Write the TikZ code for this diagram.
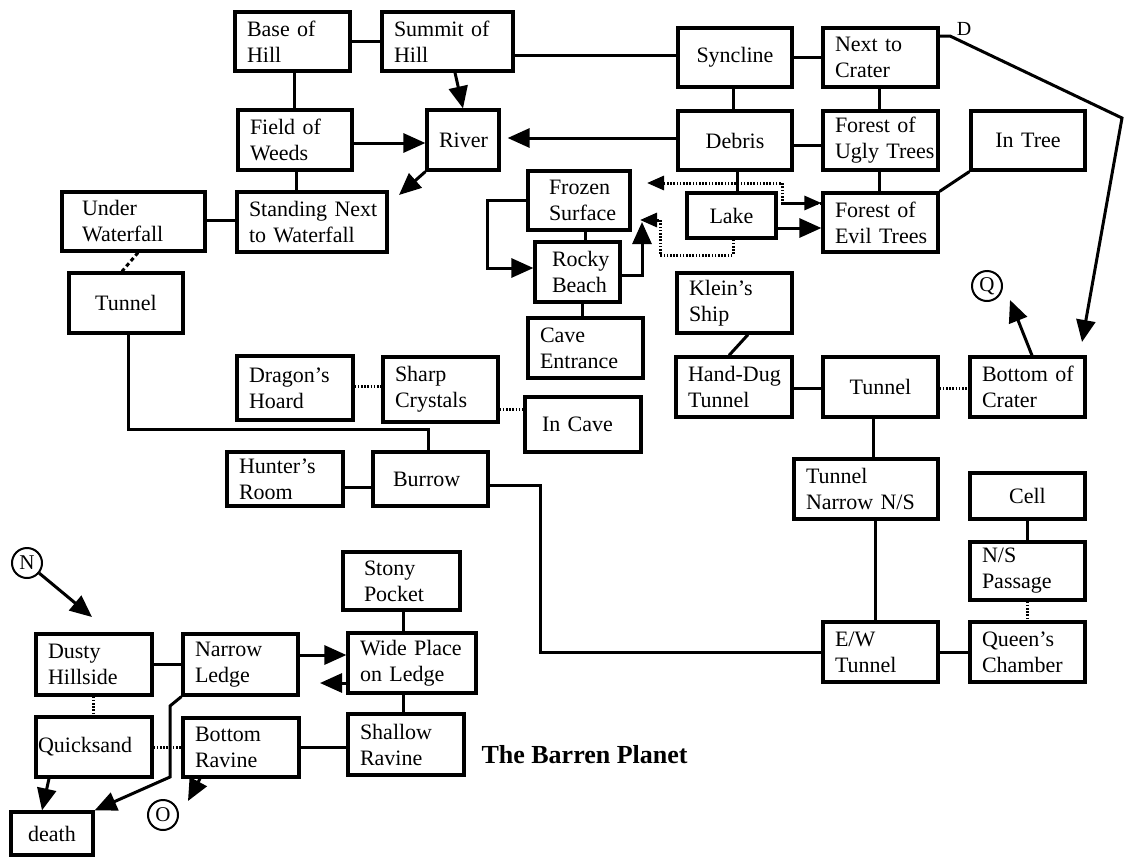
\documentclass[tikz,border=0pt]{standalone}
\usepackage{fontspec}
\setmainfont{Liberation Serif}
\usetikzlibrary{arrows.meta}
\tikzset{
  room/.style={draw, line width=3.2pt, inner sep=0pt, font=\fontsize{22}{26}\selectfont,
    execute at begin node={\hyphenpenalty=10000\exhyphenpenalty=10000}},
  conn/.style={line width=3pt},
  dotline/.style={line width=3pt, dash pattern=on 1.6pt off 1.6pt},
  dashline/.style={line width=3pt, dash pattern=on 4pt off 3pt},
  arr/.style={-{Triangle[length=22pt,width=19pt]}},
  sarr/.style={-{Triangle[length=17pt,width=14pt]}},
  letterc/.style={circle, draw, line width=2pt, minimum size=30pt, inner sep=0pt, font=\fontsize{21}{21}\selectfont},
}
\newcommand\mkroom[7][align=left]{%
  \pgfmathsetmacro\rw{#5-#3}%
  \pgfmathsetmacro\rh{#6-#4}%
  \pgfmathsetmacro\rcx{(#3+#5)/2}%
  \pgfmathsetmacro\rcy{(#4+#6)/2}%
  \pgfmathsetmacro\rtw{#5-#3-24}%
  \node[room, minimum width=\rw pt, minimum height=\rh pt, text width=\rtw pt, align=left, #1] (#2) at (\rcx,\rcy) {#7};%
}
\begin{document}
\begin{tikzpicture}[x=1pt,y=-1pt]
\fill[white] (0,0) rectangle (1125,857);
\useasboundingbox (0,0) rectangle (1125,857);

% rooms
\mkroom{boh}{235}{12}{350}{71}{Base~of\\Hill}
\mkroom{soh}{382}{12}{513}{71}{Summit~of\\Hill}
\mkroom[align=center]{syn}{678}{28}{792}{87}{Syncline}
\mkroom{ntc}{823}{28}{938}{87}{Next~to\\Crater}
\mkroom{fow}{238}{110}{352}{170}{Field~of\\Weeds}
\mkroom[align=center]{riv}{427}{110}{499}{170}{River}
\mkroom[align=center]{deb}{678}{111}{792}{170}{Debris}
\mkroom{fut}{823}{111}{938}{170}{Forest~of\\Ugly~Trees}
\mkroom[align=center]{int}{971}{111}{1085}{170}{In~Tree}
\mkroom[text width=103pt]{uwf}{62}{192}{205}{251}{Under\\Waterfall}
\mkroom{snw}{237}{192}{387}{252}{Standing~Next\\to~Waterfall}
\mkroom[text width=60pt]{frz}{528}{171}{630}{230}{Frozen\\Surface}
\mkroom[align=center]{lak}{687}{193}{776}{238}{Lake}
\mkroom{fet}{823}{193}{938}{252}{Forest~of\\Evil~Trees}
\mkroom[text width=51pt]{rkb}{535}{242}{620}{302}{Rocky\\Beach}
\mkroom[align=center]{tnl}{69}{273}{183}{333}{Tunnel}
\mkroom{kls}{677}{273}{792}{333}{Klein's\\Ship}
\mkroom{cve}{528}{318}{643}{378}{Cave\\Entrance}
\mkroom{dgh}{237}{356}{353}{420}{Dragon's\\Hoard}
\mkroom{shc}{383}{357}{498}{422}{Sharp\\Crystals}
\mkroom{hdt}{676}{357}{792}{417}{Hand-Dug\\Tunnel}
\mkroom[align=center]{tun}{823}{357}{938}{417}{Tunnel}
\mkroom{boc}{970}{357}{1085}{417}{Bottom~of\\Crater}
\mkroom[text width=82pt]{inc}{525}{397}{641}{452}{In~Cave}
\mkroom{hun}{227}{452}{343}{506}{Hunter's\\Room}
\mkroom[text width=75pt]{bur}{373}{452}{488}{506}{Burrow}
\mkroom{tns}{794}{459}{938}{519}{Tunnel\\Narrow~N/S}
\mkroom[align=center]{cel}{970}{473}{1085}{519}{Cell}
\mkroom{nsp}{970}{542}{1085}{600}{N/S\\Passage}
\mkroom[text width=75pt]{stp}{343}{552}{460}{610}{Stony\\Pocket}
\mkroom{ewt}{823}{622}{938}{682}{E/W\\Tunnel}
\mkroom{qch}{970}{622}{1085}{682}{Queen's\\Chamber}
\mkroom{dhs}{36}{634}{152}{695}{Dusty\\Hillside}
\mkroom{nle}{183}{634}{298}{695}{Narrow\\Ledge}
\mkroom{wpl}{348}{633}{476}{693}{Wide~Place\\on~Ledge}
\mkroom[text width=112pt]{qks}{36}{717}{152}{777}{Quicksand}
\mkroom{brv}{183}{718}{299}{777}{Bottom\\Ravine}
\mkroom{shr}{348}{714}{464}{775}{Shallow\\Ravine}
\mkroom[align=center]{dth}{11}{812}{93}{855}{death}

% circled letters and labels
\node[letterc] (qc) at (987,286) {Q};
\node[letterc] (nc) at (27,563) {N};
\node[letterc] (oc) at (163,815) {O};
\node[font=\fontsize{20}{20}\selectfont] (dlab) at (964,29) {D};
\node[anchor=west, font=\bfseries\fontsize{26}{26}\selectfont] (title) at (478,755) {The Barren Planet};

% free ends and bends
\coordinate (rivtip) at (399,195);
\coordinate (frztip) at (647,183);
\coordinate (laktip) at (640,220);
\coordinate (rkbtip) at (642,222);
\coordinate (wpltip) at (320,683);
\coordinate (dbend) at (1122,118);
\coordinate (dtip) at (1082,342);
\coordinate (qtip) at (1010,300);
\coordinate (ntip) at (92,617);
\coordinate (otip) at (188,801);

% solid connectors
\draw[conn] (boh.east |- 0,41) -- (soh.west |- 0,41);
\draw[conn] (boh.south -| 294,0) -- (fow.north -| 294,0);
\draw[conn] (fow.south -| 296,0) -- (snw.north -| 296,0);
\draw[conn] (uwf.east |- 0,220) -- (snw.west |- 0,220);
\draw[conn] (soh.east |- 0,55) -- (syn.west |- 0,55);
\draw[conn] (syn.east |- 0,57) -- (ntc.west |- 0,57);
\draw[conn] (syn.south -| 733,0) -- (deb.north -| 733,0);
\draw[conn] (ntc.south -| 879,0) -- (fut.north -| 879,0);
\draw[conn] (deb.east |- 0,145) -- (fut.west |- 0,145);
\draw[conn] (fut.south -| 879,0) -- (fet.north -| 879,0);
\draw[conn] (fet.north east) -- (int.south west);
\draw[conn] (deb.south -| 737,0) -- (lak.north -| 737,0);
\draw[conn] (frz.south -| 585,0) -- (rkb.north -| 585,0);
\draw[conn] (rkb.south -| 582,0) -- (cve.north -| 582,0);
\draw[conn] (kls.south -| 748,0) -- (hdt.north -| 729,0);
\draw[conn] (hdt.east |- 0,388) -- (tun.west |- 0,388);
\draw[conn] (tun.south -| 873,0) -- (tns.north -| 873,0);
\draw[conn] (tns.south -| 875,0) -- (ewt.north -| 875,0);
\draw[conn] (cel.south -| 1027,0) -- (nsp.north -| 1027,0);
\draw[conn] (ewt.east |- 0,652) -- (qch.west |- 0,652);
\draw[conn] (bur.east |- 0,485) -- (540,485) -- (540,652) -- (ewt.west |- 0,652);
\draw[conn] (tnl.south -| 128,0) -- (128,429) -- (428,429) -- (bur.north -| 428,0);
\draw[conn] (hun.east |- 0,487) -- (bur.west |- 0,487);
\draw[conn] (dhs.east |- 0,664) -- (nle.west |- 0,664);
\draw[conn] (stp.south -| 403,0) -- (wpl.north -| 403,0);
\draw[conn] (wpl.south -| 403,0) -- (shr.north -| 403,0);
\draw[conn] (brv.east |- 0,747) -- (shr.west |- 0,747);

% dotted connectors
\draw[dashline] (uwf.south -| 138,0) -- (tnl.north -| 122,0);
\draw[dotline] (dgh.east |- 0,386) -- (shc.west |- 0,386);
\draw[dotline] (shc.east |- 0,409) -- (inc.west |- 0,409);
\draw[dotline] (tun.east |- 0,388) -- (boc.west |- 0,388);
\draw[dotline] (nsp.south -| 1027,0) -- (qch.north -| 1027,0);
\draw[dotline] (dhs.south -| 93,0) -- (qks.north -| 93,0);
\draw[dotline] (qks.east |- 0,747) -- (brv.west |- 0,747);
\draw[dotline, sarr] (fet.west |- 0,203) -- (782,203) -- (782,183) -- (frztip);
\draw[line width=3pt, sarr] (782,203) -- (fet.west |- 0,203);
\draw[dotline, sarr] (lak.south -| 733,0) -- (733,255) -- (660,255) -- (660,220) -- (laktip);

% arrows
\draw[conn, arr] (fow.east |- 0,143) -- (riv.west |- 0,143);
\draw[conn, arr] (soh.south -| 455,0) -- (riv.north -| 463,0);
\draw[conn, arr] (riv.south west) -- (rivtip);
\draw[conn, arr, shorten >=7pt] (deb.west |- 0,138) -- (riv.east |- 0,138);
\draw[conn, arr] (lak.east |- 0,228) -- (fet.west |- 0,228);
\draw[conn, arr] (rkb.east |- 0,275) -- (642,275) -- (rkbtip);
\draw[conn, arr] (frz.west |- 0,200) -- (487,200) -- (487,268) -- (rkb.west |- 0,268);
\draw[conn, arr] (ntc.east |- 0,36) -- (950,36) -- (dbend) -- (dtip);
\draw[conn, arr] (boc.north -| 1032,0) -- (qtip);
\draw[conn, arr] (nc) -- (ntip);
\draw[conn, arr] (nle.east |- 0,655) -- (wpl.west |- 0,655);
\draw[conn, arr] (wpl.west |- 0,683) -- (wpltip);
\draw[conn, arr] (qks.south -| 49,0) -- (dth.north -| 42,0);
\draw[conn, arr] (nle.south west) -- (170,706) -- (170,777) -- (dth.north east);
\draw[conn, arr] (brv.south -| 200,0) -- (otip);
\end{tikzpicture}
\end{document}
